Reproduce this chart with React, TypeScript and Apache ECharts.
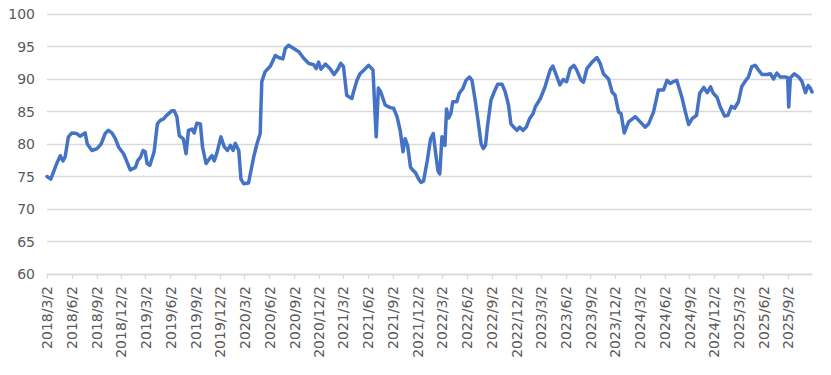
import React, { useEffect, useRef } from "react";
import * as echarts from "echarts";

const tickLabels = [
  "2018/3/2", "2018/6/2", "2018/9/2", "2018/12/2",
  "2019/3/2", "2019/6/2", "2019/9/2", "2019/12/2",
  "2020/3/2", "2020/6/2", "2020/9/2", "2020/12/2",
  "2021/3/2", "2021/6/2", "2021/9/2", "2021/12/2",
  "2022/3/2", "2022/6/2", "2022/9/2", "2022/12/2",
  "2023/3/2", "2023/6/2", "2023/9/2", "2023/12/2",
  "2024/3/2", "2024/6/2", "2024/9/2", "2024/12/2",
  "2025/3/2", "2025/6/2", "2025/9/2",
];

const axisStart = "2018-03-02";
const axisEnd = "2025-11-28";

const yMin = 60;
const yMax = 100;
const yStep = 5;

const dates = [
  "2018-03-02", "2018-03-16", "2018-04-07", "2018-04-20", "2018-04-30", "2018-05-08", "2018-05-20", "2018-06-02",
  "2018-06-20", "2018-07-02", "2018-07-21", "2018-07-29", "2018-08-15", "2018-09-03", "2018-09-18", "2018-10-03",
  "2018-10-15", "2018-10-28", "2018-11-10", "2018-11-22", "2018-12-10", "2018-12-23", "2019-01-04", "2019-01-23",
  "2019-01-31", "2019-02-11", "2019-02-20", "2019-02-28", "2019-03-07", "2019-03-17", "2019-04-02", "2019-04-14",
  "2019-04-24", "2019-05-08", "2019-05-18", "2019-06-06", "2019-06-15", "2019-06-25", "2019-07-04", "2019-07-19",
  "2019-07-29", "2019-08-07", "2019-08-20", "2019-08-28", "2019-09-07", "2019-09-20", "2019-09-28", "2019-10-11",
  "2019-10-23", "2019-11-02", "2019-11-10", "2019-11-20", "2019-12-05", "2019-12-17", "2019-12-29", "2020-01-09",
  "2020-01-19", "2020-01-27", "2020-02-09", "2020-02-17", "2020-02-27", "2020-03-16", "2020-04-04", "2020-04-16",
  "2020-04-28", "2020-05-04", "2020-05-16", "2020-06-05", "2020-06-23", "2020-07-05", "2020-07-21", "2020-07-30",
  "2020-08-11", "2020-08-30", "2020-09-18", "2020-10-06", "2020-10-24", "2020-11-12", "2020-11-21", "2020-11-30",
  "2020-12-09", "2020-12-25", "2021-01-11", "2021-01-26", "2021-02-08", "2021-02-20", "2021-03-02", "2021-03-14",
  "2021-03-24", "2021-04-02", "2021-04-08", "2021-04-21", "2021-05-02", "2021-05-17", "2021-06-03", "2021-06-19",
  "2021-07-01", "2021-07-09", "2021-07-18", "2021-08-03", "2021-08-22", "2021-09-03", "2021-09-16", "2021-09-28",
  "2021-10-08", "2021-10-16", "2021-10-25", "2021-11-05", "2021-11-15", "2021-11-23", "2021-12-05", "2021-12-14",
  "2021-12-23", "2022-01-06", "2022-01-18", "2022-01-28", "2022-02-06", "2022-02-14", "2022-02-21", "2022-03-01",
  "2022-03-06", "2022-03-12", "2022-03-18", "2022-03-26", "2022-04-03", "2022-04-10", "2022-04-25", "2022-05-04",
  "2022-05-17", "2022-05-29", "2022-06-11", "2022-06-20", "2022-07-02", "2022-07-14", "2022-07-24", "2022-08-01",
  "2022-08-09", "2022-08-16", "2022-08-29", "2022-09-10", "2022-09-23", "2022-10-09", "2022-10-21", "2022-11-02",
  "2022-11-11", "2022-11-21", "2022-12-03", "2022-12-13", "2022-12-26", "2023-01-07", "2023-01-19", "2023-02-01",
  "2023-02-09", "2023-02-28", "2023-03-17", "2023-04-05", "2023-04-15", "2023-04-26", "2023-05-11", "2023-05-23",
  "2023-06-05", "2023-06-18", "2023-07-02", "2023-07-12", "2023-07-27", "2023-08-06", "2023-08-19", "2023-09-07",
  "2023-09-25", "2023-10-07", "2023-10-19", "2023-11-07", "2023-11-20", "2023-12-01", "2023-12-14", "2023-12-23",
  "2024-01-04", "2024-01-20", "2024-02-14", "2024-03-03", "2024-03-21", "2024-04-03", "2024-04-21", "2024-05-09",
  "2024-05-28", "2024-06-10", "2024-06-22", "2024-07-04", "2024-07-16", "2024-08-04", "2024-08-17", "2024-08-29",
  "2024-09-11", "2024-09-27", "2024-10-09", "2024-10-24", "2024-11-06", "2024-11-18", "2024-11-28", "2024-12-12",
  "2024-12-24", "2025-01-09", "2025-01-21", "2025-02-03", "2025-02-15", "2025-03-01", "2025-03-13", "2025-03-25",
  "2025-04-07", "2025-04-19", "2025-05-02", "2025-05-14", "2025-05-27", "2025-06-14", "2025-06-27", "2025-07-09",
  "2025-07-21", "2025-08-03", "2025-08-21", "2025-08-30", "2025-09-03", "2025-09-09", "2025-09-24", "2025-10-10",
  "2025-10-22", "2025-11-04", "2025-11-14", "2025-11-22", "2025-11-28",
];

const values = [
  75.0, 74.6, 77.0, 78.2, 77.4, 78.0, 81.1, 81.7,
  81.6, 81.2, 81.7, 80.0, 79.0, 79.3, 80.0, 81.6,
  82.1, 81.7, 80.8, 79.5, 78.5, 77.2, 76.0, 76.4,
  77.4, 78.0, 79.0, 78.8, 77.0, 76.7, 78.8, 83.1,
  83.6, 83.9, 84.4, 85.1, 85.1, 84.2, 81.3, 80.8,
  78.5, 82.1, 82.3, 81.7, 83.2, 83.1, 79.5, 77.0,
  77.7, 78.2, 77.4, 78.6, 81.1, 79.6, 79.0, 79.8,
  79.0, 80.1, 79.0, 74.6, 73.9, 74.0, 78.0, 80.0,
  81.6, 89.6, 91.1, 92.0, 93.6, 93.3, 93.1, 94.7,
  95.2, 94.7, 94.2, 93.2, 92.4, 92.2, 91.6, 92.6,
  91.5, 92.3, 91.6, 90.7, 91.4, 92.4, 91.9, 87.5,
  87.2, 87.0, 88.0, 89.8, 90.8, 91.4, 92.1, 91.4,
  81.1, 88.6, 88.0, 86.0, 85.6, 85.5, 84.2, 82.0,
  78.8, 80.8, 79.8, 76.4, 75.9, 75.6, 74.6, 74.1,
  74.3, 77.5, 80.8, 81.6, 78.5, 75.9, 75.4, 81.1,
  80.0, 79.8, 85.4, 84.0, 84.7, 86.5, 86.5, 87.8,
  88.5, 89.8, 90.3, 89.8, 86.7, 83.1, 80.0, 79.3,
  79.8, 82.6, 86.7, 88.0, 89.2, 89.2, 88.0, 86.0,
  83.1, 82.6, 82.1, 82.6, 82.1, 82.6, 83.9, 84.7,
  85.7, 87.0, 88.8, 91.4, 92.0, 90.8, 89.1, 89.9,
  89.6, 91.6, 92.1, 91.4, 89.9, 89.5, 91.6, 92.6,
  93.3, 92.4, 90.8, 90.0, 88.0, 87.5, 84.9, 84.7,
  81.7, 83.4, 84.2, 83.4, 82.6, 83.1, 84.9, 88.3,
  88.3, 89.8, 89.3, 89.6, 89.8, 87.2, 84.9, 83.0,
  83.9, 84.4, 87.8, 88.7, 87.9, 88.8, 87.8, 87.2,
  85.7, 84.3, 84.4, 85.8, 85.5, 86.5, 88.8, 89.6,
  90.3, 91.9, 92.1, 91.4, 90.7, 90.7, 90.8, 90.0,
  90.9, 90.3, 90.3, 90.2, 85.7, 90.2, 90.8, 90.3,
  89.6, 87.9, 89.0, 88.6, 88.0,
];

function toTime(s: string): number {
  const p = s.split(/[-/]/).map(Number);
  return new Date(p[0], p[1] - 1, p[2]).getTime();
}

function fmtDate(v: number): string {
  const d = new Date(v);
  return `${d.getFullYear()}/${d.getMonth() + 1}/${d.getDate()}`;
}

export default function App() {
  const ref = useRef<HTMLDivElement>(null);

  useEffect(() => {
    if (!ref.current) return;
    const chart = echarts.init(ref.current, undefined, { renderer: "svg" });
    const tickValues = tickLabels.map(toTime);
    const seriesData = dates.map((d, i) => [toTime(d), values[i]]);
    const textStyle = { fontFamily: "DejaVu Sans", fontSize: 14, color: "#595959" };

    chart.setOption({
      animation: false,
      backgroundColor: "#ffffff",
      grid: { left: 47, right: 19, top: 14, bottom: 101, outerBoundsMode: "none", containLabel: false },
      xAxis: {
        type: "value",
        min: toTime(axisStart),
        max: toTime(axisEnd),
        axisLine: { show: true, lineStyle: { color: "#d9d9d9", width: 1.3 } },
        axisTick: { show: true, length: 5, customValues: tickValues, lineStyle: { color: "#d9d9d9", width: 1.3 } },
        axisLabel: {
          ...textStyle,
          rotate: 90,
          margin: 12,
          customValues: tickValues,
          formatter: (v: number) => fmtDate(v),
        },
        splitLine: { show: false },
      },
      yAxis: {
        type: "value",
        min: yMin,
        max: yMax,
        interval: yStep,
        axisLine: { show: false },
        axisTick: { show: false },
        axisLabel: { ...textStyle, margin: 12 },
        splitLine: { show: true, lineStyle: { color: "#d9d9d9", width: 1.3 } },
      },
      series: [
        {
          type: "line",
          data: seriesData,
          showSymbol: false,
          symbol: "none",
          lineStyle: { color: "#4472c4", width: 3.5, join: "round", cap: "round" },
          itemStyle: { color: "#4472c4" },
        },
      ],
    });

    return () => chart.dispose();
  }, []);

  return (
    <div
      ref={ref}
      style={{ position: "fixed", left: 0, top: 0, width: 831, height: 375, background: "#fff" }}
    />
  );
}
